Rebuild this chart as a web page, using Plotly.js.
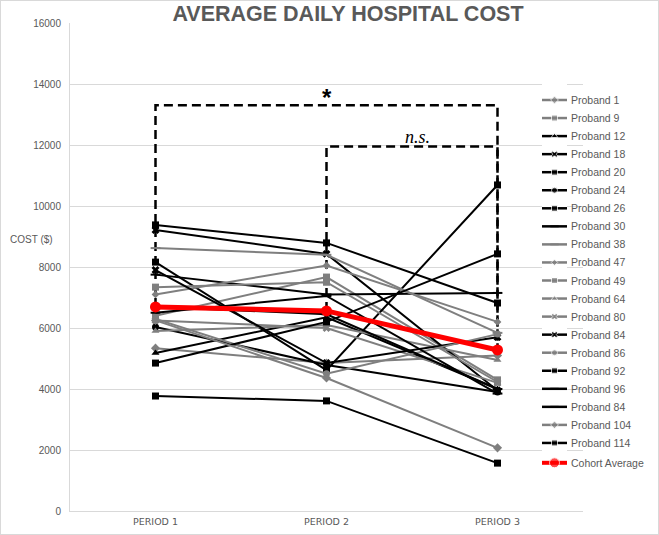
<!DOCTYPE html>
<html>
<head>
<meta charset="utf-8">
<script src="https://cdn.plot.ly/plotly-3.0.1.min.js"></script>
<style>
html,body{margin:0;padding:0;background:#fff;}
#wrap{position:relative;width:659px;height:535px;}
#chart{width:659px;height:535px;}
#frame{position:absolute;left:0;top:0;width:657px;height:533px;border:1px solid #d9d9d9;pointer-events:none;}
</style>
</head>
<body>
<div id="wrap"><div id="chart"></div><div id="frame"></div></div>
<script>
// ---- data ----
const categories = ['PERIOD 1', 'PERIOD 2', 'PERIOD 3'];
const proband1   = [5340, 4850, 5100];
const proband9   = [6400, 7670, 4300];
const proband12  = [5180, 6350, 4000];
const proband18  = [9210, 8430, 3950];
const proband20  = [8160, 4620, 10690];
const proband24  = [6030, 4790, 3900];
const proband26  = [9380, 8790, 6820];
const proband30  = [7750, 7100, 7150];
const proband38  = [8620, 8400, 5840];
const proband47  = [7100, 8050, 6200];
const proband49  = [7340, 7500, 4230];
const proband64  = [5900, 6100, 4950];
const proband80  = [6250, 6000, 4200];
const proband84  = [7900, 4850, 5700];
const proband86  = [6300, 4500, 5800];
const proband92  = [4850, 6200, 8430];
const proband96  = [6500, 7050, 3850];
const proband84b = [6700, 6450, 4000];
const proband104 = [6250, 4360, 2070];
const proband114 = [3770, 3610, 1570];
const cohortAverage = [6690, 6560, 5280];
const seriesNames = ['Proband 1','Proband 9','Proband 12','Proband 18','Proband 20','Proband 24','Proband 26','Proband 30','Proband 38','Proband 47','Proband 49','Proband 64','Proband 80','Proband 84','Proband 86','Proband 92','Proband 96','Proband 84','Proband 104','Proband 114'];
const bracketAllHeight = 13300;   // "*" bracket, Period 1 vs Period 3
const bracketLateHeight = 11950;  // "n.s." bracket, Period 2 vs Period 3

// ---- styles ----
const GRAY = '#7f7f7f', BLACK = '#000000', RED = '#ff0000', TXT = '#595959';
const seriesValues = [proband1, proband9, proband12, proband18, proband20, proband24, proband26, proband30, proband38, proband47, proband49, proband64, proband80, proband84, proband86, proband92, proband96, proband84b, proband104, proband114];
const seriesStyle = [
  [GRAY,'diamond',7],[GRAY,'square',7],[BLACK,'triangle-up',7],[BLACK,'x',7],[BLACK,'square',7],
  [BLACK,'circle',7],[BLACK,'square',7],[BLACK,'line-ew-open',7],[GRAY,'line-ew-open',7],[GRAY,'diamond',6],
  [GRAY,'square',7],[GRAY,'triangle-up',7],[GRAY,'x',7],[BLACK,'x',7],[GRAY,'circle',7],
  [BLACK,'square',7],[BLACK,'line-ew-open',7],[BLACK,'line-ew-open',7],[GRAY,'diamond',7],[BLACK,'square',7]
];

const traces = [];
const legendTraces = [];
const annotations = [];
const LEG_X_TEXT = (569 - 70) / 513;

function mk(style){
  const m = {symbol: style[1], size: style[2], color: style[0]};
  if (style[1].endsWith('-open')) m.line = {color: style[0], width: 2};
  return m;
}

// bracket traces (drawn under data lines)
traces.push({
  x: [categories[0], categories[0], categories[2], categories[2]],
  y: [cohortAverage[0], bracketAllHeight, bracketAllHeight, cohortAverage[2]],
  mode: 'lines', line: {color: '#000', width: 2.5, dash: '9px,5px'},
  hoverinfo: 'skip', showlegend: false, cliponaxis: false
});
traces.push({
  x: [categories[1], categories[1], categories[2], categories[2]],
  y: [cohortAverage[1], bracketLateHeight, bracketLateHeight, cohortAverage[2]],
  mode: 'lines', line: {color: '#000', width: 2.5, dash: '9px,5px'},
  hoverinfo: 'skip', showlegend: false, cliponaxis: false
});

seriesValues.forEach((vals, i) => {
  const st = seriesStyle[i];
  traces.push({
    x: categories, y: vals, name: seriesNames[i], mode: 'lines+markers',
    line: {color: st[0], width: 2}, marker: mk(st), showlegend: false, cliponaxis: false
  });
  legendTraces.push({
    x: [0, 0.5, 1], y: [i, i, i], xaxis: 'x2', yaxis: 'y2', mode: 'lines+markers',
    line: {color: st[0], width: 2.5}, marker: Object.assign(mk(st), {size: [0, st[2] - 1, 0]}),
    hoverinfo: 'skip', showlegend: false
  });
  annotations.push({xref: 'paper', yref: 'y2', x: LEG_X_TEXT, y: i, xanchor: 'left', yanchor: 'middle',
    text: seriesNames[i], showarrow: false, font: {family: 'Liberation Sans, Arial, sans-serif', size: 10.5, color: TXT}});
});

// cohort average
traces.push({
  x: categories, y: cohortAverage, name: 'Cohort Average', mode: 'lines+markers',
  line: {color: RED, width: 5}, marker: {symbol: 'circle', size: 11, color: RED},
  showlegend: false, cliponaxis: false
});
const cohortRow = 20.1;
legendTraces.push({
  x: [0, 0.5, 1], y: [cohortRow, cohortRow, cohortRow], xaxis: 'x2', yaxis: 'y2', mode: 'lines+markers',
  line: {color: RED, width: 4}, marker: {symbol: 'circle', size: [0, 10, 0], color: RED},
  hoverinfo: 'skip', showlegend: false
});
annotations.push({xref: 'paper', yref: 'y2', x: LEG_X_TEXT, y: cohortRow, xanchor: 'left', yanchor: 'middle',
  text: 'Cohort Average', showarrow: false, font: {family: 'Liberation Sans, Arial, sans-serif', size: 10.5, color: TXT}});

// significance labels
annotations.push({xref: 'x', yref: 'y', x: 1, y: bracketAllHeight, yanchor: 'bottom', yshift: -8,
  text: '<b>*</b>', showarrow: false, font: {family: 'Liberation Sans, Arial, sans-serif', size: 24, color: '#000'}});
annotations.push({xref: 'x', yref: 'y', x: 1.53, y: bracketLateHeight, yanchor: 'bottom', yshift: -2,
  text: '<i>n.s.</i>', showarrow: false, font: {family: 'Liberation Serif, Times New Roman, serif', size: 18, color: '#000'}});
// y-axis title (horizontal)
annotations.push({xref: 'paper', yref: 'paper', x: (8 - 70) / 513, y: (511 - 239) / 488, xanchor: 'left', yanchor: 'middle',
  text: 'COST ($)', showarrow: false, font: {family: 'Liberation Sans, Arial, sans-serif', size: 10, color: TXT}});

const rowPx0 = 100, rowStep = 18.05;
const layout = {
  width: 659, height: 535,
  margin: {l: 70, r: 76, t: 23, b: 24, pad: 0},
  paper_bgcolor: '#fff', plot_bgcolor: '#fff',
  title: {text: 'AVERAGE DAILY HOSPITAL COST', x: 348 / 659, xanchor: 'center', y: 1 - 13 / 535, yanchor: 'middle',
    font: {family: 'Liberation Sans, Arial, sans-serif', size: 21.5, color: TXT, weight: 'bold'}},
  xaxis: {type: 'category', categoryarray: categories, range: [-0.5, 2.5], showgrid: false, zeroline: false,
    showline: true, linecolor: '#d9d9d9', linewidth: 1, ticks: '',
    tickfont: {family: 'DejaVu Sans, sans-serif', size: 9.5, color: TXT}, ticklabelstandoff: 2},
  yaxis: {range: [0, 16000], dtick: 2000, tickformat: 'd', showgrid: true, gridcolor: '#d9d9d9', gridwidth: 1, zeroline: false,
    showline: true, linecolor: '#d9d9d9', linewidth: 1, ticks: '', ticklabelstandoff: 6,
    tickfont: {family: 'Liberation Sans, Arial, sans-serif', size: 10, color: TXT}},
  xaxis2: {domain: [(542 - 70) / 513, (567 - 70) / 513], range: [0, 1], visible: false, fixedrange: true},
  yaxis2: {domain: [0, 1], range: [(511 - rowPx0) / rowStep, (23 - rowPx0) / rowStep], visible: false, anchor: 'x2', fixedrange: true},
  annotations: annotations,
  showlegend: false
};

Plotly.newPlot('chart', traces.concat(legendTraces), layout, {displayModeBar: false, staticPlot: true});
</script>
</body>
</html>
